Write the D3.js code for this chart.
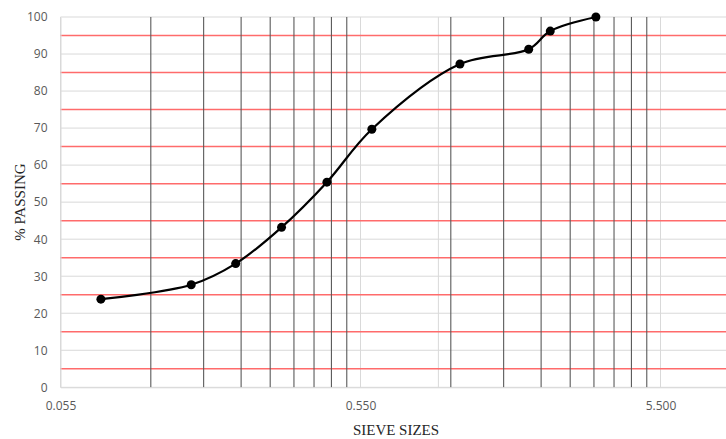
<html>
<script src="https://cdn.jsdelivr.net/npm/d3@7/dist/d3.min.js"></script>
<style>
body { margin:0; background:#fff; }
.tick text { font-family: "Open Sans", "Liberation Sans", sans-serif; font-size:12px; fill:#595959; }
.title { font-family: "Liberation Serif", "DejaVu Serif", serif; font-size:15px; fill:#262626; }
</style>
<body>
<div id="chart"></div>
</body>
<script>

// sieve size (mm) and % passing
var sieveSizes = [0.075, 0.150, 0.211, 0.300, 0.425, 0.600, 1.18, 2.00, 2.36, 3.35]
var passing = [23.8, 27.7, 33.4, 43.2, 55.4, 69.7, 87.3, 91.3, 96.2, 100]

var xTickValues = [0.055, 0.55, 5.5]
var yTickValues = [0,10,20,30,40,50,60,70,80,90,100]
var redLines = [5,15,25,35,45,55,65,75,85,95]
var extraLines = [1.0]

var W = 726, H = 439
var pLeft = 60.5, pRight = 726, pTop = 17, pBottom = 387.3

var svg = d3.select("#chart").append("svg").attr("width",W).attr("height",H)

var x = d3.scaleLog().domain([0.055, 0.055*Math.pow(10,(pRight-pLeft)/300)]).range([pLeft,pRight])
var y = d3.scaleLinear().domain([0,100]).range([pBottom,pTop])

// minor log lines, 2..9 times each decade
var minor = []
xTickValues.forEach(function(d){ for(var k=2;k<=9;k++){ if(d*k < x.domain()[1]) minor.push(d*k) } })

var grid = svg.append("g")

grid.selectAll(".hg").data(yTickValues).enter().append("line")
	.attr("x1",pLeft).attr("x2",pRight).attr("y1",function(d){return y(d)}).attr("y2",function(d){return y(d)})
	.attr("stroke","#d9d9d9").attr("stroke-width",1)

grid.selectAll(".vg").data(xTickValues.concat(extraLines)).enter().append("line")
	.attr("x1",function(d){return x(d)}).attr("x2",function(d){return x(d)}).attr("y1",pTop).attr("y2",pBottom)
	.attr("stroke","#d9d9d9").attr("stroke-width",1)

grid.selectAll(".rl").data(redLines).enter().append("line")
	.attr("x1",pLeft).attr("x2",pRight).attr("y1",function(d){return y(d)}).attr("y2",function(d){return y(d)})
	.attr("stroke","#ff6b6b").attr("stroke-width",1.5)

grid.selectAll(".ml").data(minor).enter().append("line")
	.attr("x1",function(d){return x(d)}).attr("x2",function(d){return x(d)}).attr("y1",pTop).attr("y2",pBottom)
	.attr("stroke","#5a5a5a").attr("stroke-width",1.1)

// axes
var yAxis = svg.append("g").attr("transform","translate("+pLeft+",0)")
	.call(d3.axisLeft(y).tickValues(yTickValues).tickSize(0).tickPadding(13))
yAxis.select(".domain").attr("stroke","#d9d9d9")

var xAxis = svg.append("g").attr("transform","translate(0,"+pBottom+")")
	.call(d3.axisBottom(x).tickValues(xTickValues).tickSize(0).tickPadding(14).tickFormat(d3.format(".3f")))
xAxis.select(".domain").attr("stroke","#d9d9d9")

// curve
var pts = sieveSizes.map(function(d,i){ return [d, passing[i]] })
var line = d3.line().x(function(d){return x(d[0])}).y(function(d){return y(d[1])}).curve(d3.curveCatmullRom.alpha(0.5))

svg.append("path").datum(pts).attr("d",line).attr("fill","none").attr("stroke","#000").attr("stroke-width",2.2)

svg.append("g").selectAll("circle").data(pts).enter().append("circle")
	.attr("cx",function(d){return x(d[0])}).attr("cy",function(d){return y(d[1])}).attr("r",4.5).attr("fill","#000")

// titles
svg.append("text").attr("class","title").attr("x",396).attr("y",435).attr("text-anchor","middle").text("SIEVE SIZES")
svg.append("text").attr("class","title").attr("transform","translate(25,"+((pTop+pBottom)/2)+") rotate(-90)")
	.attr("text-anchor","middle").text("% PASSING")

</script>
</html>
